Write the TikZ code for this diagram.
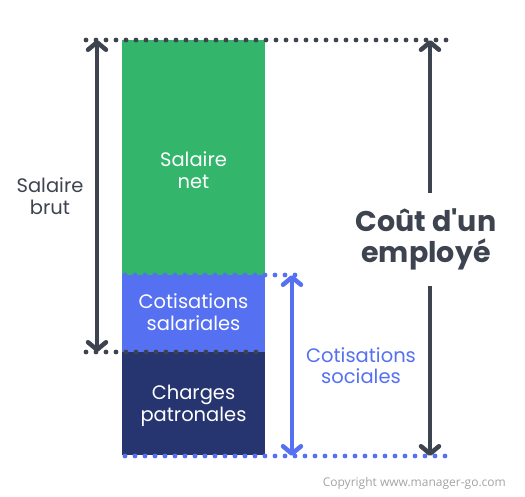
\documentclass[tikz,border=0pt]{standalone}
\usepackage{fontspec}
\setmainfont{Poppins}
\newfontfamily\copyfont{Open Sans}
\newfontfamily\titlefont{Poppins}[Ligatures=TeXOff]
\usetikzlibrary{arrows.meta}
\definecolor{netgreen}{HTML}{33B56B}
\definecolor{cotblue}{HTML}{5570F1}
\definecolor{patnavy}{HTML}{26346F}
\definecolor{inkgray}{HTML}{3E4350}
\definecolor{copygray}{HTML}{A3A3A3}
\tikzset{
  box/.style={inner sep=0pt, outer sep=0pt, minimum width=143pt},
  boxtext/.style={text=white, align=center, font=\fontsize{19.5}{21.5}\selectfont},
  dotline/.style={line width=4.8pt, line cap=round, dash pattern=on 0pt off 10pt},
  span/.style={line width=4.5pt, {Straight Barb[round, length=7.5pt, width=18pt]}-{Straight Barb[round, length=7.5pt, width=18pt]}},
  halfspan/.style={line width=4.5pt, -{Straight Barb[round, length=7.5pt, width=18pt]}}
}
\begin{document}
\begin{tikzpicture}[x=1pt, y=-1pt]
        \useasboundingbox (0,0) rectangle (525,497);
        % stacked bar
        \node[box, fill=netgreen, minimum height=235pt] (net) at (193.5,157.5) {};
        \node[box, fill=cotblue, minimum height=77pt] (sal) at (193.5,313.5) {};
        \node[box, fill=patnavy, minimum height=103pt] (pat) at (193.5,403.5) {};
        \node[boxtext] (netlbl) at (193.5,170) {Salaire\\net};
        \node[boxtext] (sallbl) at (193.5,312) {Cotisations\\salariales};
        \node[boxtext] (patlbl) at (193.5,406) {Charges\\patronales};
        % guide lines
        \coordinate (topL) at (86,40);
        \coordinate (topR) at (447,40);
        \coordinate (brutL) at (86,352);
        \coordinate (brutR) at (257,352);
        \coordinate (socL) at (125,275);
        \coordinate (socR) at (305,275);
        \coordinate (botL) at (125,456);
        \coordinate (botR) at (455,456);
        \draw[dotline, inkgray] (topL) -- (topR);
        \draw[dotline, inkgray] (brutL) -- (brutR);
        \draw[dotline, cotblue] (socL) -- (socR);
        \draw[dotline, cotblue] (botL) -- (botR);
        % salaire brut
        \coordinate (brutT) at (97,40);
        \coordinate (brutB) at (97,352);
        \draw[span, inkgray] (brutT) -- (brutB);
        \node[text=inkgray, align=center, font=\fontsize{19.5}{22.5}\selectfont] (brut) at (50,196) {Salaire\\brut};
        % cotisations sociales
        \coordinate (socT) at (292,275);
        \coordinate (socB) at (292,456);
        \draw[span, cotblue] (socT) -- (socB);
        \node[text=cotblue, align=center, font=\fontsize{19.5}{21}\selectfont] (soc) at (361,366) {Cotisations\\sociales};
        % cout d'un employe
        \coordinate (coutT) at (430,40);
        \coordinate (coutB) at (430,456);
        \node[text=inkgray, align=center, inner sep=0pt, font=\titlefont\bfseries\fontsize{28.5}{31}\selectfont] (cout) at (426,239) {Coût d'un\\employé};
        \draw[halfspan, inkgray] (coutT |- 0,193) -- (coutT);
        \draw[halfspan, inkgray] (coutB |- 0,286) -- (coutB);
        \node[text=copygray, anchor=base east, inner sep=0pt, font=\copyfont\fontsize{12}{14}\selectfont] (copy) at (506,486) {Copyright www.manager-go.com};
\end{tikzpicture}
\end{document}
